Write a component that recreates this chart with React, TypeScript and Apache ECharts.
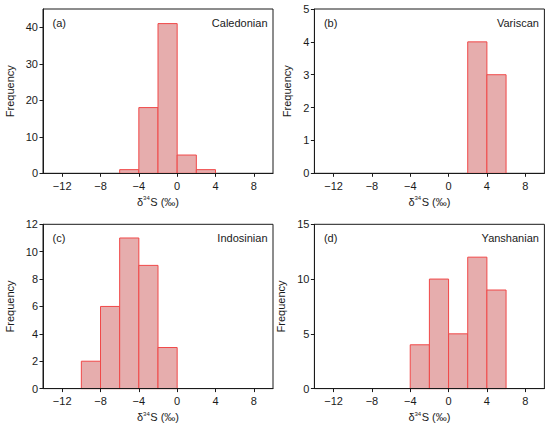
import React, { useEffect, useRef } from "react";
import * as echarts from "echarts";

// ---- data (bin lower edges, counts, bin width 2 ‰) ----
const BIN_WIDTH = 2;
const caledonianBins = [-6, -4, -2, 0, 2];
const caledonianCounts = [1, 18, 41, 5, 1];
const variscanBins = [2, 4];
const variscanCounts = [4, 3];
const indosinianBins = [-10, -8, -6, -4, -2];
const indosinianCounts = [2, 6, 11, 9, 3];
const yanshanianBins = [-4, -2, 0, 2, 4];
const yanshanianCounts = [4, 10, 5, 12, 9];

const xTicks = [-12, -8, -4, 0, 4, 8];
const caledonianYTicks = [0, 10, 20, 30, 40];
const variscanYTicks = [0, 1, 2, 3, 4, 5];
const indosinianYTicks = [0, 2, 4, 6, 8, 10, 12];
const yanshanianYTicks = [0, 5, 10, 15];
const panelTags = ["(a)", "(b)", "(c)", "(d)"];
const panelNames = ["Caledonian", "Variscan", "Indosinian", "Yanshanian"];
const yMax = [45, 5, 12, 15];

const FONT = "'Liberation Sans', Arial, sans-serif";
const FILL = "#E6ADAD";
const EDGE = "#F04848";
const INK = "#1a1a1a";

const colLeft = [43, 314.4];
const rowTop = [9, 224.3];
const W = 230;
const H = 164.3;

export default function App() {
  const ref = useRef<HTMLDivElement>(null);
  useEffect(() => {
    if (!ref.current) return;
    const chart = echarts.init(ref.current, undefined, { renderer: "svg" });
    const bins = [caledonianBins, variscanBins, indosinianBins, yanshanianBins];
    const counts = [caledonianCounts, variscanCounts, indosinianCounts, yanshanianCounts];
    const yTicks = [caledonianYTicks, variscanYTicks, indosinianYTicks, yanshanianYTicks];

    const grids: any[] = [];
    const xAxes: any[] = [];
    const yAxes: any[] = [];
    const series: any[] = [];
    const graphics: any[] = [];

    for (let i = 0; i < 4; i++) {
      const left = colLeft[i % 2];
      const top = rowTop[Math.floor(i / 2)];
      grids.push({
        left,
        top,
        width: W,
        height: H,
        show: true,
        borderColor: INK,
        borderWidth: 1,
        backgroundColor: "transparent",
        outerBoundsMode: "none",
        containLabel: false,
      });
      xAxes.push({
        type: "value",
        gridIndex: i,
        min: -14,
        max: 10,
        z: 5,
        axisLine: { show: true, onZero: false, lineStyle: { color: INK, width: 1 } },
        axisTick: { show: true, length: 3.5, lineStyle: { color: INK }, customValues: xTicks },
        axisLabel: {
          color: INK,
          fontSize: 11,
          fontFamily: FONT,
          margin: 7,
          customValues: xTicks,
          formatter: (v: number) => (v < 0 ? "\u2212" + Math.abs(v) : String(v)),
        },
        splitLine: { show: false },
        name: "{t|δ}{s|34}{t|S (‰)}",
        nameLocation: "middle",
        nameGap: 22,
        nameTextStyle: {
          color: INK,
          fontFamily: FONT,
          rich: {
            t: { fontSize: 11, fontFamily: FONT, color: INK, lineHeight: 13 },
            s: { fontSize: 6, fontFamily: FONT, color: INK, lineHeight: 13, verticalAlign: "top", padding: [0, 0.5, 0, 0] },
          },
        },
      });
      yAxes.push({
        type: "value",
        gridIndex: i,
        min: 0,
        max: yMax[i],
        z: 5,
        axisLine: { show: true, onZero: false, lineStyle: { color: INK, width: 1 } },
        axisTick: { show: true, length: 3.5, lineStyle: { color: INK }, customValues: yTicks[i] },
        axisLabel: { color: INK, fontSize: 11, fontFamily: FONT, margin: 5, customValues: yTicks[i] },
        splitLine: { show: false },
        name: "Frequency",
        nameLocation: "middle",
        nameGap: i === 1 ? 22 : 27.5,
        nameTextStyle: { color: INK, fontSize: 11, fontFamily: FONT },
      });
      series.push({
        type: "custom",
        xAxisIndex: i,
        yAxisIndex: i,
        z: 2,
        encode: { x: [0, 1], y: 2 },
        data: bins[i].map((b, k) => [b, b + BIN_WIDTH, counts[i][k]]),
        renderItem: (params: any, api: any) => {
          const p0 = api.coord([api.value(0), 0]);
          const p1 = api.coord([api.value(1), api.value(2)]);
          return {
            type: "rect",
            shape: { x: p0[0], y: p1[1], width: p1[0] - p0[0], height: p0[1] - p1[1] },
            style: { fill: FILL, stroke: EDGE, lineWidth: 1 },
          };
        },
      });
      graphics.push({
        type: "text",
        left: left + 9.5,
        top: top + 8,
        style: { text: panelTags[i], fontSize: 11, fontFamily: FONT, fill: INK },
      });
      graphics.push({
        type: "text",
        right: 550 - (left + W) + 5.5,
        top: top + 8,
        style: { text: panelNames[i], fontSize: 11, fontFamily: FONT, fill: INK },
      });
    }

    chart.setOption({
      animation: false,
      backgroundColor: "#ffffff",
      grid: grids,
      xAxis: xAxes,
      yAxis: yAxes,
      series,
      graphic: graphics,
    });
    return () => chart.dispose();
  }, []);
  return (
    <div
      ref={ref}
      style={{ position: "absolute", left: 0, top: 0, width: 550, height: 429 }}
    />
  );
}
